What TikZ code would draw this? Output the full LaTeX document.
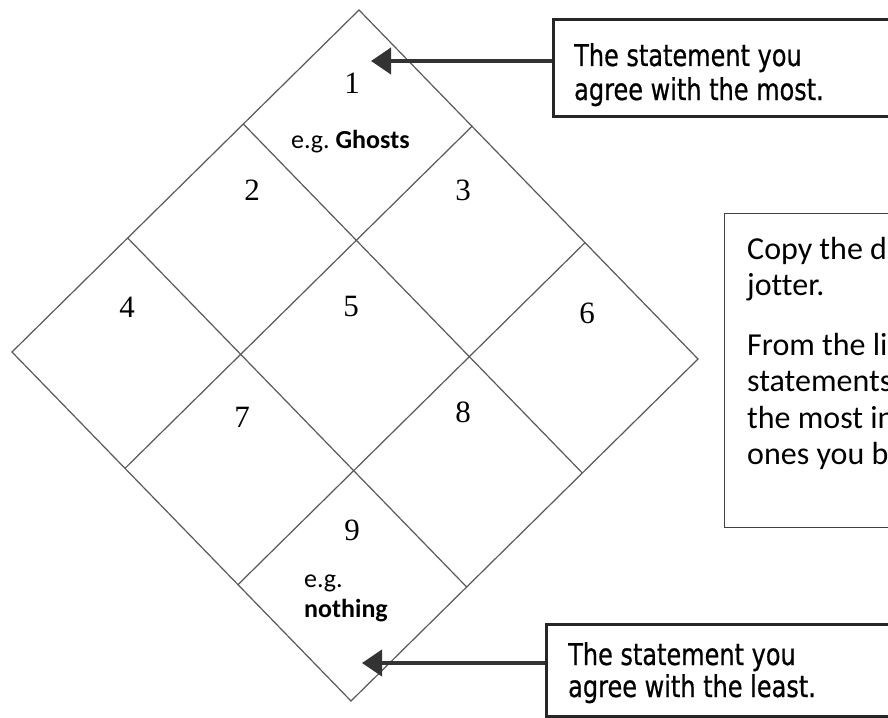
\documentclass[tikz,border=0pt]{standalone}
\usepackage{fontspec}
\setmainfont{Liberation Serif}
\newfontfamily\calib[Ligatures=NoCommon]{Carlito}
\newfontfamily\comic[FakeStretch=0.8,FakeBold=0.6]{DejaVu Sans}
\usetikzlibrary{arrows.meta,calc}
\begin{document}
\begin{tikzpicture}[x=1pt,y=-1pt,
  grid/.style={draw=black!65,line width=1.2pt},
  num/.style={inner sep=0pt,font=\fontsize{31}{33}\selectfont},
  eg/.style={inner sep=0pt,anchor=base west,font=\calib\fontsize{26}{28}\selectfont},
  callout/.style={draw=black!85,line width=3pt,anchor=north west,inner sep=0pt},
  ctext/.style={inner sep=0pt,anchor=base west,text=black,font=\comic\fontsize{30}{32}\selectfont},
  info/.style={draw=black!75,line width=1.2pt,anchor=north west,inner sep=0pt},
  itext/.style={inner sep=0pt,anchor=base west,font=\calib\fontsize{32}{34}\selectfont},
  pointer/.style={draw=black!80,line width=4pt,-{Triangle[length=20pt,width=26pt]}}]
\useasboundingbox (0,0) rectangle (888,717);
\clip (0,0) rectangle (888,717);
\fill[white] (0,0) rectangle (888,717);
% diamond
\coordinate (T) at (359,10);
\coordinate (L) at (12,352);
\coordinate (R) at (698,359);
\coordinate (B) at (351,701);
\draw[grid] (T) -- (R) -- (B) -- (L) -- cycle;
\coordinate (tl1) at ($(T)!1/3!(L)$);
\coordinate (tl2) at ($(T)!2/3!(L)$);
\coordinate (rb1) at ($(R)!1/3!(B)$);
\coordinate (rb2) at ($(R)!2/3!(B)$);
\coordinate (tr1) at ($(T)!1/3!(R)$);
\coordinate (tr2) at ($(T)!2/3!(R)$);
\coordinate (lb1) at ($(L)!1/3!(B)$);
\coordinate (lb2) at ($(L)!2/3!(B)$);
\draw[grid] (tl1) -- (rb1);
\draw[grid] (tl2) -- (rb2);
\draw[grid] (tr1) -- (lb1);
\draw[grid] (tr2) -- (lb2);
% numbers
\node[num] (n1) at (352,83) {1};
\node[num] (n2) at (252,190) {2};
\node[num] (n3) at (463,190) {3};
\node[num] (n4) at (127,307) {4};
\node[num] (n5) at (351,306) {5};
\node[num] (n6) at (587,313) {6};
\node[num] (n7) at (242,417) {7};
\node[num] (n8) at (463,412) {8};
\node[num] (n9) at (352,530) {9};
\node[eg] (eg1) at (291,148) {e.g.\ \textbf{Ghosts}};
\node[eg] (eg2) at (304,587) {e.g.};
\node[eg] (eg3) at (304,617) {\textbf{nothing}};
% top callout
\node[callout,minimum width=400pt,minimum height=97pt] (topbox) at (552,18) {};
\node[ctext] (tt1) at (574,66) {The statement you};
\node[ctext] (tt2) at (574,100) {agree with the most.};
\coordinate (tip1) at (371,61);
\draw[pointer] (tip1 -| topbox.west) -- (tip1);
% bottom callout
\node[callout,minimum width=400pt,minimum height=92pt] (botbox) at (545,623) {};
\node[ctext] (bt1) at (568,665) {The statement you};
\node[ctext] (bt2) at (568,697) {agree with the least.};
\coordinate (tip2) at (362,663);
\draw[pointer] (tip2 -| botbox.west) -- (tip2);
% info box
\node[info,minimum width=400pt,minimum height=314pt] (infobox) at (724,213) {};
\node[itext] (i1) at (747,259) {Copy the d};
\node[itext] (i2) at (747,295) {jotter.};
\node[itext] (i3) at (747,355) {From the li};
\node[itext] (i4) at (747,391) {statements};
\node[itext] (i5) at (747,428) {the most in};
\node[itext] (i6) at (747,464) {ones you b};
\end{tikzpicture}
\end{document}
